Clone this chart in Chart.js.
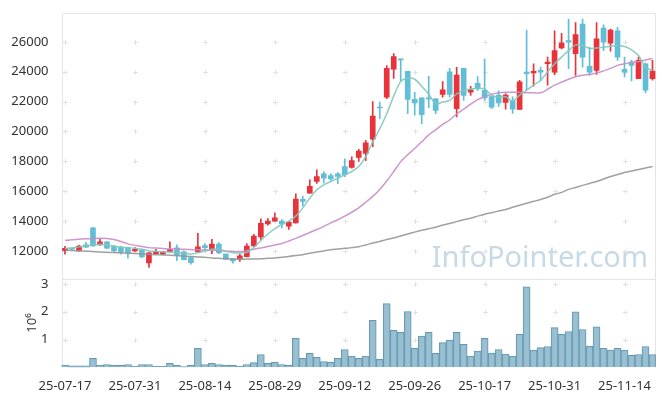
<!DOCTYPE html>
<html><head><meta charset="utf-8">
<script src="https://cdn.jsdelivr.net/npm/chart.js@4/dist/chart.umd.min.js"></script>
<style>html,body{margin:0;padding:0;background:#fff;}#wrap{width:665px;height:396px;}</style>
</head><body><div id="wrap"><canvas id="c" width="665" height="396"></canvas></div>
<script>
const dates = ['25-07-17','25-07-18','25-07-21','25-07-22','25-07-23','25-07-24','25-07-25','25-07-28','25-07-29','25-07-30',
'25-07-31','25-08-01','25-08-04','25-08-05','25-08-06','25-08-07','25-08-08','25-08-11','25-08-12','25-08-13',
'25-08-14','25-08-18','25-08-19','25-08-20','25-08-21','25-08-22','25-08-25','25-08-26','25-08-27','25-08-28',
'25-08-29','25-09-01','25-09-02','25-09-03','25-09-04','25-09-05','25-09-08','25-09-09','25-09-10','25-09-11',
'25-09-12','25-09-15','25-09-16','25-09-17','25-09-18','25-09-19','25-09-22','25-09-23','25-09-24','25-09-25',
'25-09-26','25-09-29','25-09-30','25-10-01','25-10-02','25-10-10','25-10-13','25-10-14','25-10-15','25-10-16',
'25-10-17','25-10-20','25-10-21','25-10-22','25-10-23','25-10-24','25-10-27','25-10-28','25-10-29','25-10-30',
'25-10-31','25-11-03','25-11-04','25-11-05','25-11-06','25-11-07','25-11-10','25-11-11','25-11-12','25-11-13',
'25-11-14','25-11-17','25-11-18','25-11-19','25-11-20'];

const opens = [12020,12130,12020,12400,13550,12400,12600,12330,12250,12220, 12000,12070,11200,11820,11780,11950,12200,11930,11555,11950,
12350,12045,12465,11780,11490,11450,11620,12330,12930,13815, 13995,13995,13660,13880,15455,15875,16650,17165,17050,17165,
17650,17600,18270,18530,19490,21600,22300,24180,24850,24030, 22150,22250,22220,22190,22480,24000,21520,24230,22630,23230,
22750,22330,22430,21950,22050,21480,23980,23920,24095,24540, 23980,25600,26090,25205,27200,24360,24095,26930,25910,26750,
24160,24650,23540,24540,23540];
const highs = [12310,12180,12380,12580,13580,12780,12620,12380,12300,12250, 12220,12100,11900,12110,11960,12600,12400,12000,11580,13180,
12485,12780,12550,11800,11500,11780,12490,13110,14150,14170, 14550,14106,13950,15830,15655,16765,17430,17300,17180,17250,
18160,18310,18800,19400,22010,21970,24410,25220,24850,24030, 22630,22250,23700,22200,23340,24230,24290,24230,23030,23680,
24845,22330,22720,22545,22320,23430,26800,24540,24315,24980, 26750,26575,27530,27300,27530,25645,27300,27150,26865,26970,
24980,24760,24980,24600,24760];
const lows = [11780,12080,11990,12220,12300,12380,12150,11950,11780,11515, 11960,11550,10890,11800,11760,11930,11340,11400,11115,11930,
12000,11820,11820,11430,11180,11290,11600,12300,12777,13727, 13990,13548,13440,13860,14990,15850,16520,16560,16720,16500,
16980,17550,18000,18050,18980,20860,22190,23560,23410,21190, 21085,20530,21600,21190,22300,22300,20970,22080,22410,22750,
22080,21520,21655,21500,21215,21480,22765,23030,23380,23100, 23810,25535,24205,23760,24315,23760,23830,25420,25380,24760,
23650,23380,23540,22585,23430];
const closes = [12180,12120,12330,12250,12330,12600,12180,12000,11930,11850, 12110,11600,11870,11930,11930,12110,11730,11420,11220,12265,
12220,12465,11890,11450,11335,11670,12330,13000,13840,13995, 14215,13815,13930,15475,15320,16320,16985,16870,16830,16985,
17100,18050,18690,19240,21040,21570,24230,25020,24800,22150, 21920,21125,22180,21415,22790,22480,23780,22410,22790,22850,
22250,21635,21920,22430,21500,23320,23875,24030,23980,24650, 25425,25935,25975,26490,24980,23980,26200,25975,26800,24980,
23980,24425,24760,22765,24045];

const ma5 = [12180,12200,12270,12330,12400,12450,12400,12310,12250,12220, 12170,12110,12000,11970,11930,11930,11900,11830,11800,11870,
12000,12110,12100,11970,11870,11870,11900,12230,12700,13130, 13500,13770,13990,14330,14880,15540,16100,16430,16650,16870,
17100,17320,17650,18310,19310,20170,21190,22370,23340,23560, 23500,23030,22500,21850,21970,22080,22520,22750,22850,22900,
22850,22430,22280,22320,22050,22430,22770,23100,23430,23980, 24540,24980,25420,25800,25760,25560,25600,25640,25710,25760,
25690,25470,25090,24310,24090];
const ma20 = [12710,12740,12780,12810,12830,12840,12830,12760,12630,12470, 12370,12300,12220,12190,12160,12130,12120,12110,12090,12070,
12060,12050,12040,12000,11970,11950,12030,12110,12200,12300, 12400,12500,12660,12840,13030,13230,13430,13640,13880,14090,
14330,14590,14890,15260,15650,16120,16680,17320,17980,18450, 18860,19310,19770,20110,20470,20770,21170,21500,21830,22130,
22330,22500,22600,22630,22630,22620,22600,22590,22590,22830, 23100,23300,23500,23660,23760,23830,23910,24060,24230,24430,
24530,24630,24690,24790,24890];
const ma60 = [12050,12030,12000,11980,11960,11930,11910,11890,11870,11850, 11820,11800,11780,11750,11730,11710,11680,11650,11630,11600,
11570,11530,11500,11470,11450,11450,11450,11460,11470,11500, 11530,11580,11630,11690,11750,11850,11930,12000,12070,12120,
12170,12220,12280,12400,12530,12630,12760,12860,13000,13130, 13260,13380,13480,13590,13730,13830,13960,14090,14190,14330,
14460,14560,14670,14770,14920,15060,15190,15320,15440,15590, 15790,15920,16120,16250,16390,16520,16650,16820,16980,17120,
17250,17350,17450,17550,17650];

const volumes = [80000,50000,50000,50000,320000,80000,100000,70000,70000,100000, 40000,100000,100000,40000,40000,140000,70000,30000,70000,680000,
100000,140000,100000,70000,70000,40000,100000,170000,460000,140000, 180000,100000,70000,1040000,320000,500000,360000,210000,180000,320000,
640000,400000,320000,400000,1690000,290000,2290000,1330000,1260000,2010000, 680000,1120000,1260000,500000,890000,980000,1260000,830000,400000,580000,
1040000,510000,640000,480000,400000,1190000,2900000,620000,710000,750000, 1430000,1190000,1290000,2000000,1360000,760000,1460000,680000,620000,680000,
620000,430000,460000,750000,460000];

const priceTicks = [12000,14000,16000,18000,20000,22000,24000,26000];
const volumeTicks = [1000000,2000000,3000000];
const xTickLabels = ['25-07-17','25-07-31','25-08-14','25-08-29','25-09-12','25-09-26','25-10-17','25-10-31','25-11-14'];

const UP = '#e8333b', DOWN = '#62bdd6';
const candleColors = opens.map((o, i) => closes[i] >= o ? UP : DOWN);
const wickData = lows.map((l, i) => [l, highs[i]]);
const bodyData = opens.map((o, i) => [o, closes[i]]);

const FONT = {family: '"Noto Sans", "Open Sans", sans-serif', size: 13};

const decor = {
  id: 'decor',
  beforeDatasetsDraw(chart) {
    const {ctx, chartArea: ca, scales} = chart;
    const xs = scales.x, y = scales.y, yv = scales.yv;
    ctx.save();
    ctx.font = '29px "Noto Sans", sans-serif';
    ctx.fillStyle = 'rgba(150,188,210,0.55)';
    ctx.textAlign = 'right';
    ctx.textBaseline = 'alphabetic';
    ctx.fillText('InfoPointer.com', ca.right - 8, y.bottom - 12);
    ctx.strokeStyle = '#e4e4e4';
    ctx.lineWidth = 1;
    const L = Math.round(ca.left) + 0.5, R = Math.round(ca.right) - 0.5;
    const T = Math.round(ca.top) + 0.5, M = Math.round(y.bottom) + 0.5, B = Math.round(yv.bottom);
    ctx.beginPath();
    ctx.moveTo(L, B); ctx.lineTo(L, T); ctx.lineTo(R, T); ctx.lineTo(R, B);
    ctx.moveTo(L, M); ctx.lineTo(R, M);
    ctx.stroke();
    ctx.strokeStyle = '#e2e2e2';
    ctx.beginPath();
    const cross = (px, py) => {
      px = Math.round(px) + 0.5; py = Math.round(py) + 0.5;
      ctx.moveTo(px - 2.5, py); ctx.lineTo(px + 2.5, py);
      ctx.moveTo(px, py - 2.5); ctx.lineTo(px, py + 2.5);
    };
    xs.ticks.forEach(t => {
      const px = xs.getPixelForValue(t.value);
      y.ticks.forEach(v => cross(px, y.getPixelForValue(v.value)));
      yv.ticks.forEach(v => cross(px, yv.getPixelForValue(v.value)));
    });
    ctx.stroke();
    ctx.restore();
  }
};

new Chart(document.getElementById('c'), {
  type: 'bar',
  data: {
    labels: dates,
    datasets: [
      {type: 'line', data: ma5, yAxisID: 'y', borderColor: 'rgba(128,200,188,0.9)', borderWidth: 1.5, pointRadius: 0, tension: 0.3, order: 0},
      {type: 'line', data: ma20, yAxisID: 'y', borderColor: 'rgba(200,140,200,0.9)', borderWidth: 1.5, pointRadius: 0, tension: 0.3, order: 0},
      {type: 'line', data: ma60, yAxisID: 'y', borderColor: 'rgba(150,150,150,0.9)', borderWidth: 1.5, pointRadius: 0, tension: 0.3, order: 0},
      {type: 'bar', data: wickData, yAxisID: 'y', backgroundColor: candleColors, barThickness: 1, grouped: false, order: 2},
      {type: 'bar', data: bodyData, yAxisID: 'y', backgroundColor: candleColors, barThickness: 5, minBarLength: 1, grouped: false, order: 1},
      {type: 'bar', data: volumes, yAxisID: 'yv', backgroundColor: 'rgba(148,188,207,0.95)', borderColor: '#6299b1', borderWidth: 1,
        barPercentage: 1, categoryPercentage: 1, grouped: false, order: 3}
    ]
  },
  options: {
    responsive: false,
    devicePixelRatio: 1,
    animation: false,
    layout: {padding: {left: 0, right: 9, top: 10, bottom: 0}},
    plugins: {legend: {display: false}, tooltip: {enabled: false}},
    scales: {
      x: {
        type: 'category', offset: true,
        grid: {display: false}, border: {display: false},
        ticks: {autoSkip: false, maxRotation: 0, minRotation: 0, padding: 3, color: '#333', font: FONT},
        afterBuildTicks: s => { s.ticks = xTickLabels.map(l => ({value: dates.indexOf(l)})); },
        afterFit: s => { s.height = 28.7; }
      },
      yv: {
        position: 'left', stack: 'main', stackWeight: 1,
        min: 0, max: 3190000,
        grid: {display: false}, border: {display: false},
        title: {display: true, text: '10⁶', color: '#333', font: FONT, padding: {top: 24, bottom: 0}},
        ticks: {padding: 5, color: '#333', font: FONT, callback: v => String(v / 1000000)},
        afterBuildTicks: s => { s.ticks = volumeTicks.map(v => ({value: v})); },
        afterFit: s => { s.width = 61.5; }
      },
      y: {
        position: 'left', stack: 'main', stackWeight: 3,
        min: 10140, max: 27950,
        grid: {display: false}, border: {display: false},
        ticks: {padding: 5, color: '#333', font: FONT, callback: v => String(v)},
        afterBuildTicks: s => { s.ticks = priceTicks.map(v => ({value: v})); },
        afterFit: s => { s.width = 61.5; }
      }
    }
  },
  plugins: [decor]
});
</script>
</body></html>
